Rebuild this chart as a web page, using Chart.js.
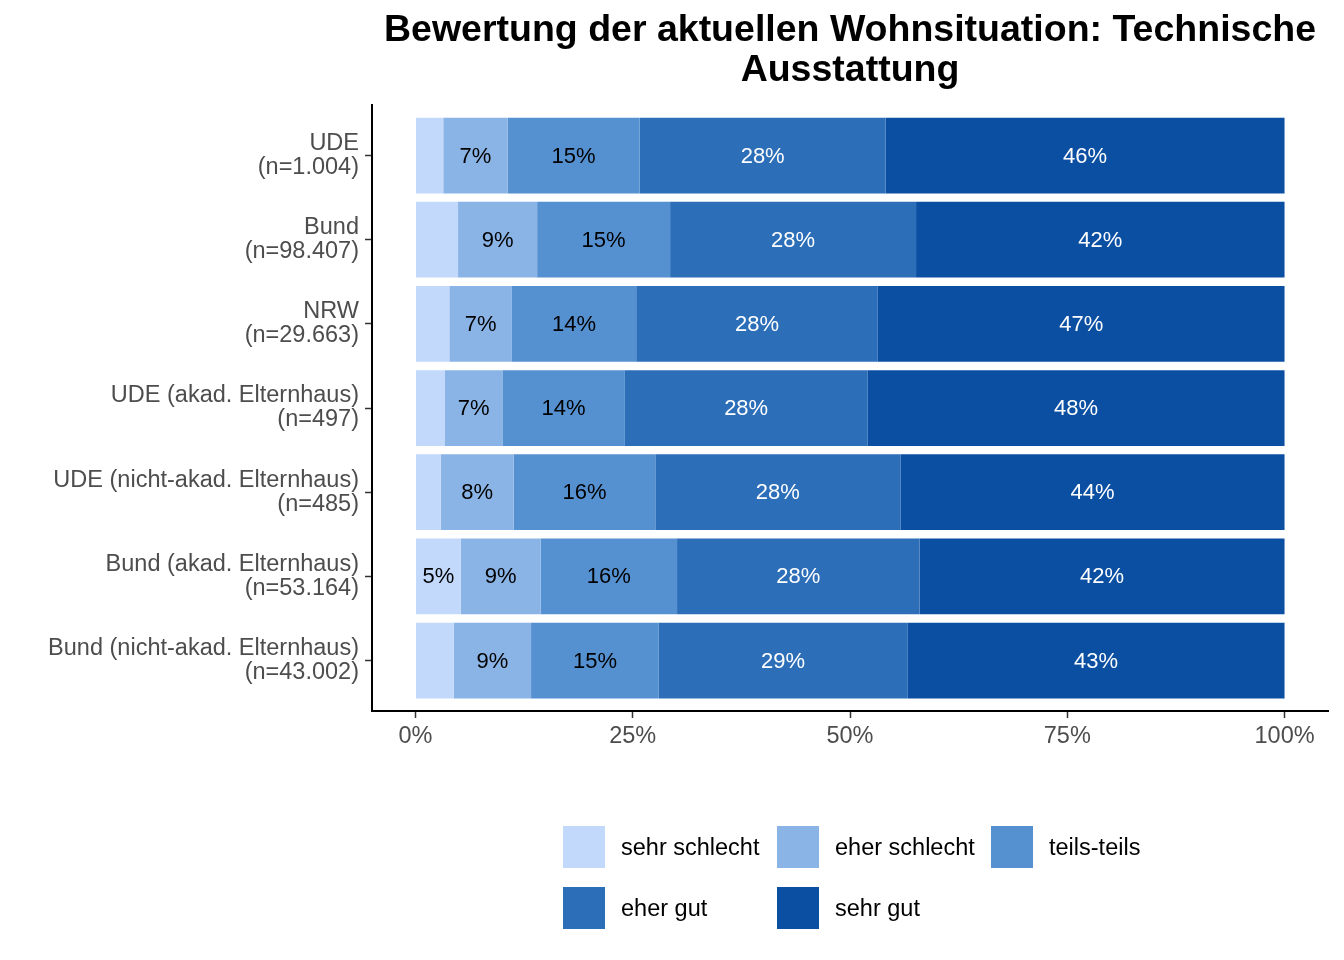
<!DOCTYPE html>
<html>
<head>
<meta charset="utf-8">
<script src="https://cdn.jsdelivr.net/npm/chart.js@4.4.1/dist/chart.umd.min.js"></script>
<style>
  html, body { margin: 0; padding: 0; background: #ffffff; }
  #wrap { position: relative; width: 1344px; height: 960px; }
  #c { position: absolute; left: 0; top: 0; }
  #legend { position: absolute; left: 563px; top: 826px; display: grid;
    grid-template-columns: 214px 214px 214px; row-gap: 19px;
    font-family: "Liberation Sans", Arial, sans-serif; font-size: 23.5px; color: #000; }
  .item { display: flex; align-items: center; height: 42px; }
  .sw { width: 42px; height: 42px; margin-right: 16px; flex: none; }
</style>
</head>
<body>
<div id="wrap">
  <canvas id="c" width="1344" height="960"></canvas>
  <div id="legend"></div>
</div>
<script>
const titleLines = ['Bewertung der aktuellen Wohnsituation: Technische', 'Ausstattung'];
const categories = [
  ['UDE', '(n=1.004)'],
  ['Bund', '(n=98.407)'],
  ['NRW', '(n=29.663)'],
  ['UDE (akad. Elternhaus)', '(n=497)'],
  ['UDE (nicht-akad. Elternhaus)', '(n=485)'],
  ['Bund (akad. Elternhaus)', '(n=53.164)'],
  ['Bund (nicht-akad. Elternhaus)', '(n=43.002)']
];
const seriesNames = ['sehr schlecht', 'eher schlecht', 'teils-teils', 'eher gut', 'sehr gut'];
const sehrSchlecht = [3.2, 4.9, 3.9, 3.4, 2.9, 5.2, 4.4];
const eherSchlecht = [7.4, 9.1, 7.2, 6.6, 8.4, 9.2, 8.9];
const teilsTeils   = [15.2, 15.3, 14.3, 14.1, 16.3, 15.7, 14.7];
const eherGut      = [28.3, 28.3, 27.8, 27.9, 28.2, 27.9, 28.6];
const sehrGut      = [45.9, 42.4, 46.8, 48.0, 44.2, 42.0, 43.4];
const xTickValues = [0, 25, 50, 75, 100];

const seriesValues = [sehrSchlecht, eherSchlecht, teilsTeils, eherGut, sehrGut];
const colors = ['#C2D9FC', '#8AB4E6', '#5591D0', '#2C6EB8', '#0B4FA3'];
const labelColors = ['#000000', '#000000', '#000000', '#ffffff', '#ffffff'];
const FONT = '"Liberation Sans", Arial, sans-serif';

const datasets = seriesNames.map((name, s) => ({
  label: name,
  data: seriesValues[s].map((v, i) => ({ x: v, y: i })),
  backgroundColor: colors[s],
  borderWidth: 0,
  barPercentage: 0.9,
  categoryPercentage: 1.0
}));

const barLabels = {
  id: 'barLabels',
  afterDatasetsDraw(chart) {
    const ctx = chart.ctx;
    ctx.save();
    ctx.font = '22px ' + FONT;
    ctx.textAlign = 'center';
    ctx.textBaseline = 'middle';
    chart.data.datasets.forEach((ds, s) => {
      const meta = chart.getDatasetMeta(s);
      meta.data.forEach((bar, i) => {
        const v = ds.data[i].x;
        if (v < 5) return;
        const p = bar.getProps(['x', 'y', 'base'], true);
        ctx.fillStyle = labelColors[s];
        ctx.fillText(Math.round(v) + '%', (p.x + p.base) / 2, p.y + 1);
      });
    });
    ctx.restore();
  }
};

new Chart(document.getElementById('c'), {
  type: 'bar',
  data: { datasets },
  options: {
    indexAxis: 'y',
    responsive: false,
    animation: false,
    devicePixelRatio: 1,
    layout: { padding: { left: 0, right: 16, top: 0, bottom: 210 } },
    plugins: {
      legend: { display: false },
      tooltip: { enabled: false },
      title: {
        display: true,
        text: titleLines,
        fullSize: false,
        align: 'center',
        color: '#000000',
        font: { family: FONT, size: 37.5, weight: 'bold', lineHeight: 40 / 37.5 },
        padding: { top: 11, bottom: 14 }
      }
    },
    scales: {
      x: {
        type: 'linear',
        stacked: true,
        min: -5,
        max: 105,
        afterBuildTicks: (scale) => { scale.ticks = xTickValues.map(v => ({ value: v })); },
        afterFit: (scale) => { scale.height = 39; },
        ticks: {
          color: '#4D4D4D',
          padding: 4,
          font: { family: FONT, size: 23.5 },
          callback: (v) => v + '%'
        },
        grid: { drawOnChartArea: false, drawTicks: true, tickLength: 7, tickColor: '#333333', tickWidth: 1.5 },
        border: { display: true, color: '#000000', width: 2 }
      },
      y: {
        type: 'linear',
        stacked: true,
        reverse: true,
        offset: false,
        min: -0.6,
        max: 6.6,
        afterBuildTicks: (scale) => { scale.ticks = categories.map((c, i) => ({ value: i })); },
        afterFit: (scale) => { scale.width = 372; },
        ticks: {
          color: '#4D4D4D',
          padding: 6,
          font: { family: FONT, size: 23.5, lineHeight: 24 / 23.5 },
          callback: (v) => categories[v]
        },
        grid: { offset: false, drawOnChartArea: false, drawTicks: true, tickLength: 7, tickColor: '#333333', tickWidth: 1.5 },
        border: { display: true, color: '#000000', width: 2 }
      }
    }
  },
  plugins: [barLabels]
});

const legend = document.getElementById('legend');
seriesNames.forEach((name, s) => {
  const item = document.createElement('div');
  item.className = 'item';
  const sw = document.createElement('div');
  sw.className = 'sw';
  sw.style.background = colors[s];
  const t = document.createElement('span');
  t.textContent = name;
  item.appendChild(sw);
  item.appendChild(t);
  legend.appendChild(item);
});
</script>
</body>
</html>
